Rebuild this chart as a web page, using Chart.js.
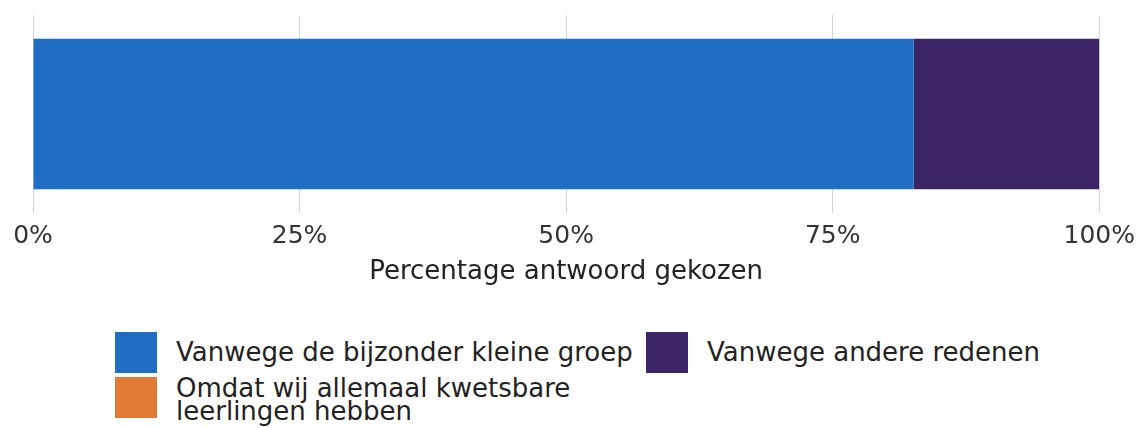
<!DOCTYPE html>
<html>
<head>
<meta charset="utf-8">
<script src="https://cdn.jsdelivr.net/npm/chart.js@4.4.0/dist/chart.umd.min.js"></script>
<style>
  body { margin: 0; background: #fff; font-family: "DejaVu Sans", Verdana, sans-serif; }
  #wrap { position: relative; width: 1140px; height: 428px; overflow: hidden; }
  #chartBox { position: absolute; left: 0; top: 0; width: 1144px; height: 288px; }
  .legend-item { position: absolute; display: flex; align-items: flex-start; color: #222; font-size: 26px; line-height: 23px; }
  .legend-box { width: 42px; height: 41px; flex: none; margin-right: 19px; }
</style>
</head>
<body>
<div id="wrap">
  <div id="chartBox"><canvas id="myChart"></canvas></div>
  <div id="legend"></div>
</div>
<script>
// data
const categories = [''];
const seriesLabels = ['Vanwege de bijzonder kleine groep', 'Omdat wij allemaal kwetsbare leerlingen hebben', 'Vanwege andere redenen'];
const kleineGroep = [82.6];
const kwetsbaar = [0];
const andereRedenen = [17.4];
const tickLabels = ['0%', '25%', '50%', '75%', '100%'];
const axisTitle = 'Percentage antwoord gekozen';

const colors = ['#1f6ec4', '#e07a35', '#3c2566'];
const seriesValues = [kleineGroep, kwetsbaar, andereRedenen];

const datasets = seriesLabels.map((label, i) => ({
  label: label,
  data: seriesValues[i],
  backgroundColor: colors[i],
  borderWidth: 0,
  barPercentage: 0.76,
  categoryPercentage: 1
}));

const ctx = document.getElementById('myChart').getContext('2d');
const myChart = new Chart(ctx, {
  type: 'bar',
  data: { labels: categories, datasets: datasets },
  options: {
    indexAxis: 'y',
    responsive: true,
    maintainAspectRatio: false,
    animation: false,
    layout: { padding: { left: 33, right: 35, top: 15, bottom: 0 } },
    plugins: { legend: { display: false }, tooltip: { enabled: false } },
    scales: {
      x: {
        stacked: true,
        min: 0,
        max: 100,
        border: { display: false },
        grid: { color: '#d3d3dc', lineWidth: 1, drawTicks: false },
        ticks: {
          stepSize: 25,
          padding: 9,
          color: '#333',
          font: { family: 'DejaVu Sans', size: 25 },
          callback: (v, i) => tickLabels[i]
        },
        title: {
          display: true,
          text: axisTitle,
          color: '#222',
          font: { family: 'DejaVu Sans', size: 26, lineHeight: 0.85 },
          padding: { top: 0, bottom: 5 }
        }
      },
      y: { stacked: true, display: false }
    }
  }
});

// legend in two columns
const legendPos = [
  { left: 115, top: 332, pad: 9 },
  { left: 115, top: 377, pad: 0 },
  { left: 646, top: 332, pad: 9 }
];
const legend = document.getElementById('legend');
seriesLabels.forEach((label, i) => {
  const item = document.createElement('div');
  item.className = 'legend-item';
  item.style.left = legendPos[i].left + 'px';
  item.style.top = legendPos[i].top + 'px';
  item.style.width = i === 1 ? '480px' : '540px';
  const box = document.createElement('div');
  box.className = 'legend-box';
  box.style.background = colors[i];
  const text = document.createElement('div');
  text.style.paddingTop = legendPos[i].pad + 'px';
  text.textContent = label;
  item.appendChild(box);
  item.appendChild(text);
  legend.appendChild(item);
});
</script>
</body>
</html>
